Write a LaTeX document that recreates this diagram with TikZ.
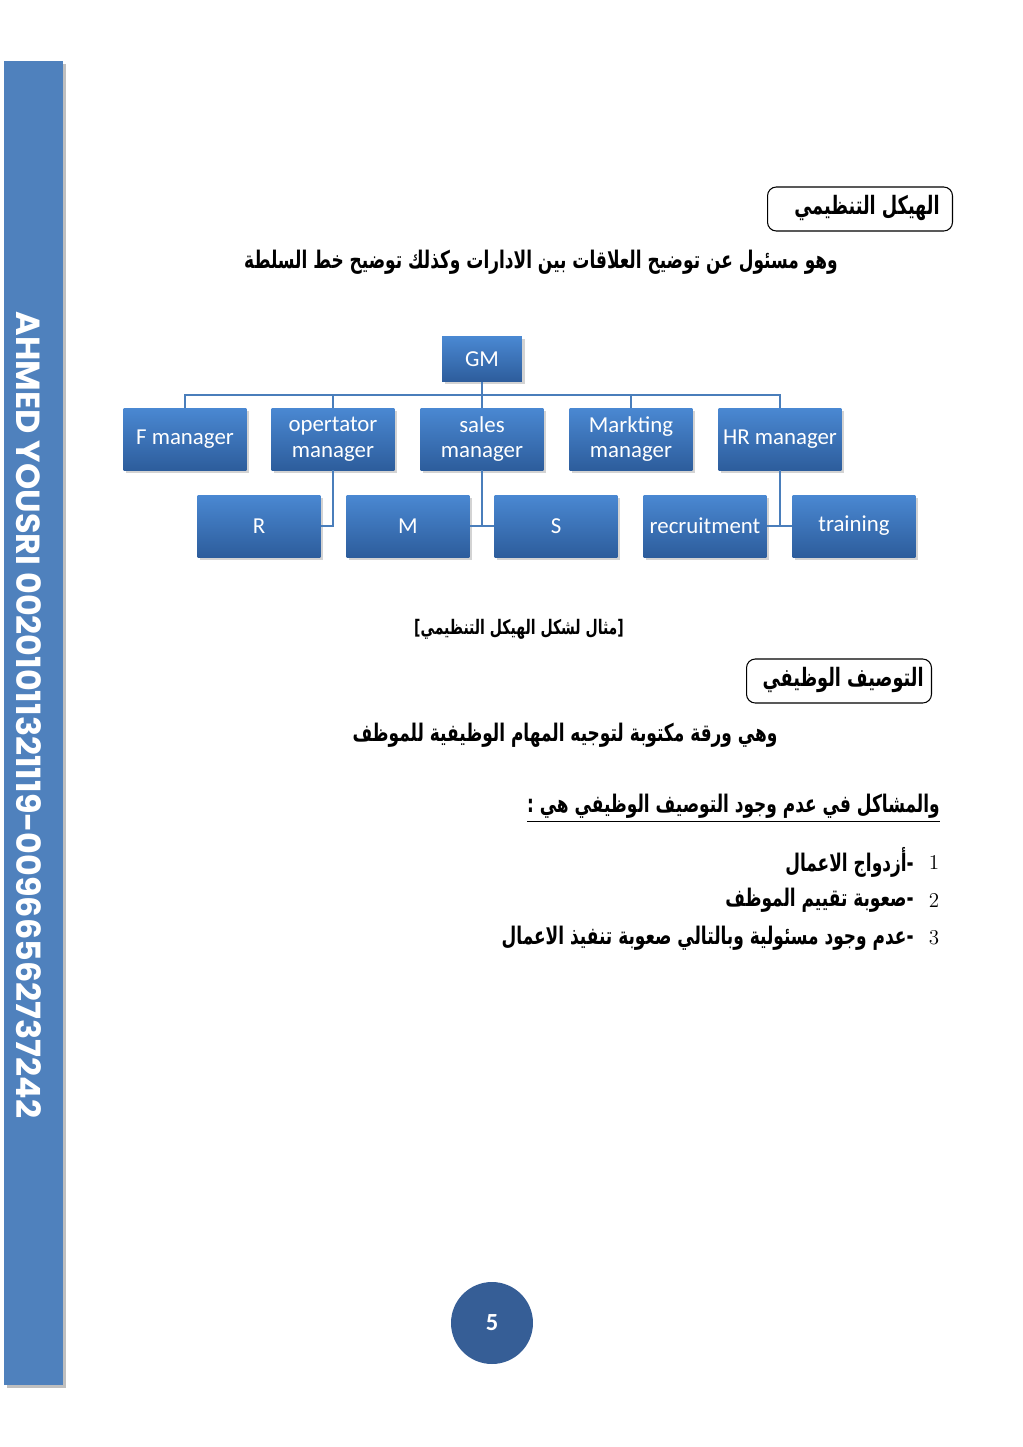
\documentclass[tikz,border=0pt]{standalone}
\usepackage{fontspec}
\usepackage{graphicx}
\newfontfamily\cfont{Carlito}
\newfontfamily\arabicfont[Script=Arabic]{DejaVu Sans}
\newfontfamily\sidefont{Poppins}
\usepackage{tikz}
\usetikzlibrary{positioning,shadows}
\TeXXeTstate=1
\definecolor{barblue}{HTML}{4F81BD}
\definecolor{boxtop}{HTML}{4A88D2}
\definecolor{boxbot}{HTML}{2D5D9C}
\definecolor{linkblue}{HTML}{4A7EBB}
\definecolor{pageblue}{HTML}{365E96}
\newcommand{\ar}[1]{\scalebox{0.84}[1.2]{\arabicfont\bfseries\beginR #1\endR}}

\begin{document}
\begin{tikzpicture}[x=0.02cm,y=-0.02cm,
  orgbox/.style={rectangle,minimum width=2.46cm,minimum height=1.24cm,inner sep=1pt,
    top color=boxtop,bottom color=boxbot,text=white,align=center,
    font=\cfont\fontsize{13}{14.5}\selectfont,
    drop shadow={shadow xshift=1.5pt,shadow yshift=-1.5pt,opacity=.35}},
  link/.style={linkblue,line width=0.9pt},
  titlebox/.style={draw,rounded corners=5pt,line width=0.6pt,minimum width=3.7cm,minimum height=0.88cm},
  every node/.style={inner sep=0pt}]
 \useasboundingbox (0,0) rectangle (1023,1447);
 % side bar
 \fill[black!25] (7,64) rectangle (66,1388);
 \fill[barblue] (4,61) rectangle (63,1385);
 \node[rotate=-90,text=white,font=\sidefont\bfseries\fontsize{19}{22}\selectfont] (side) at (29,715)
   {AHMED YOUSRI 00201011321119-00966562737242};
 % first section
 \node[titlebox] (head1) at (860,209) {};
 \node[font=\fontsize{12}{14}\selectfont,anchor=east] (head1txt) at (940,208) {\ar{الهيكل التنظيمي}};
 \node[font=\fontsize{11.5}{14}\selectfont] (line1) at (541,262)
   {\ar{وهو مسئول عن توضيح العلاقات بين الادارات وكذلك توضيح خط السلطة}};
 % org chart
 \node[orgbox,minimum width=1.6cm,minimum height=0.9cm] (gm) at (482,359) {GM};
 \node[orgbox] (fman) at (185,439) {F manager};
 \node[orgbox] (oman) at (333,439) {opertator\\manager};
 \node[orgbox] (sman) at (482,439) {sales\\manager};
 \node[orgbox] (mman) at (631,439) {Markting\\manager};
 \node[orgbox] (hrman) at (780,439) {HR manager};
 \node[orgbox] (r) at (259,526) {R};
 \node[orgbox] (m) at (408,526) {M};
 \node[orgbox] (s) at (556,526) {S};
 \node[orgbox] (recr) at (705,526) {recruitment};
 \node[orgbox] (train) at (854,526) {\strut training};
 \coordinate (bus) at (482,395);
 \draw[link] (gm.south) -- (bus);
 \draw[link] (fman.north) |- (bus) -| (hrman.north);
 \foreach \n in {oman,sman,mman} \draw[link] (\n.north) -- (\n.north |- bus);
 \draw[link] (oman.south) |- (r.east);
 \draw[link] (sman.south) |- (m.east);
 \draw[link] (sman.south) |- (s.west);
 \draw[link] (hrman.south) |- (recr.east);
 \draw[link] (hrman.south) |- (train.west);
 \node[font=\fontsize{9.5}{12}\selectfont] (caption) at (519,629) {\ar{[مثال لشكل الهيكل التنظيمي]}};
 % second section
 \node[titlebox] (head2) at (839,681) {};
 \node[font=\fontsize{12}{14}\selectfont,anchor=east] (head2txt) at (924,680) {\ar{التوصيف الوظيفي}};
 \node[font=\fontsize{11.5}{14}\selectfont] (line2) at (565,735)
   {\ar{وهي ورقة مكتوبة لتوجيه المهام الوظيفية للموظف}};
 \node[font=\fontsize{11.5}{14}\selectfont,anchor=east] (problems) at (940,808)
   {\scalebox{0.84}[1.2]{\arabicfont\bfseries\underline{\beginR والمشاكل في عدم وجود التوصيف الوظيفي هي :\endR}}};
 \foreach \i/\t [count=\k] in {862/{أزدواج الاعمال},900/{صعوبة تقييم الموظف},938/{عدم وجود مسئولية وبالتالي صعوبة تنفيذ الاعمال}}{
   \node[font=\rmfamily\fontsize{12}{14}\selectfont] (num\k) at (934,\i) {\k};
   \node[font=\fontsize{11.5}{14}\selectfont,anchor=east] (item\k) at (914,\i) {\ar{-\t}};
 }
 % page number
 \node[circle,fill=pageblue,minimum size=1.64cm,text=white,font=\cfont\bfseries\fontsize{14}{16}\selectfont] (page) at (492,1323) {5};
\end{tikzpicture}
\end{document}
